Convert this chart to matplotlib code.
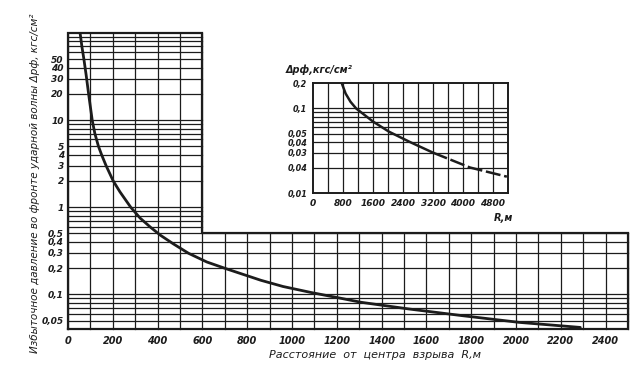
import matplotlib
matplotlib.use('Agg')
import matplotlib.pyplot as plt
from matplotlib.ticker import NullLocator

# ---- data ----
main_R = [54, 62, 71, 81, 92, 108, 120, 136, 150, 170, 202, 232, 280, 322, 368, 413,
          470, 538, 620, 713, 861, 960, 1085, 1200, 1309, 1520, 1758, 2013, 2287]
main_p = [100, 70, 50, 33, 20, 10, 7, 5, 4, 3, 2.0, 1.5, 1.0, 0.75, 0.59, 0.476,
          0.38, 0.296, 0.235, 0.194, 0.145, 0.123, 0.105, 0.092, 0.081, 0.068, 0.057, 0.0477, 0.0417]

inset_R = [765, 870, 1000, 1150, 1600, 2030, 2590, 3200, 4190, 5170]
inset_p = [0.2, 0.15, 0.12, 0.1, 0.07, 0.053, 0.04, 0.03, 0.02, 0.0156]
inset_dash_from = 3200

main_xticks = [0, 200, 400, 600, 800, 1000, 1200, 1400, 1600, 1800, 2000, 2200, 2400]
main_yticks = [50, 40, 30, 20, 10, 5, 4, 3, 2, 1, 0.5, 0.4, 0.3, 0.2, 0.1, 0.05]
main_ylabels = ['50', '40', '30', '20', '10', '5', '4', '3', '2', '1',
                '0,5', '0,4', '0,3', '0,2', '0,1', '0,05']

inset_xticks = [0, 800, 1600, 2400, 3200, 4000, 4800]
inset_yticks = [0.2, 0.1, 0.05, 0.04, 0.03, 0.02, 0.01]
inset_ylabels = ['0,2', '0,1', '0,05', '0,04', '0,03', '0,04', '0,01']

xlabel = 'Расстояние  от  центра  взрыва  R,м'
ylabel = 'Избыточное давление во фронте ударной волны Δpф, кгс/см²'
inset_ylabel = 'Δpф,кгс/см²'
inset_xlabel = 'R,м'

# ---- styling ----
plt.rcParams['font.family'] = ['DejaVu Sans']
plt.rcParams['font.style'] = 'italic'
INK = '#1c1c1c'
W, H = 644, 370

fig = plt.figure(figsize=(W / 100, H / 100), dpi=100)
fig.patch.set_facecolor('white')

def rect(l, t, r, b):
    return [l / W, 1 - b / H, (r - l) / W, (b - t) / H]

# ---------- main axes ----------
ax = fig.add_axes(rect(68, 33, 628, 329))
ax.set_yscale('log')
x0, x1, xs = 0, 2500, 600
y0, y1, ys = 0.04, 100, 0.5
ax.set_xlim(x0, x1)
ax.set_ylim(y0, y1)
for s in ax.spines.values():
    s.set_visible(False)

ylines = sorted(set([round(k * 10 ** e, 6) for e in range(-2, 2) for k in range(1, 10)
                     if y0 < k * 10 ** e < y1]))
for y in ylines:
    xm = x1 if y <= ys + 1e-9 else xs
    ax.plot([x0, xm], [y, y], color=INK, lw=0.9, clip_on=False, zorder=1)
for x in range(0, x1 + 1, 100):
    yt = y1 if x <= xs else ys
    ax.plot([x, x], [y0, yt], color=INK, lw=0.9, clip_on=False, zorder=1)
ax.plot([x0, x0, xs, xs, x1, x1, x0], [y0, y1, y1, ys, ys, y0, y0],
        color=INK, lw=1.6, clip_on=False, zorder=2, solid_joinstyle='miter')

ax.plot(main_R, main_p, color=INK, lw=2.0, zorder=3, solid_capstyle='round',
        solid_joinstyle='round')

ax.set_xticks(main_xticks)
ax.set_xticklabels([str(v) for v in main_xticks], fontsize=7, fontweight='bold')
ax.set_yticks(main_yticks)
ax.set_yticklabels(main_ylabels, fontsize=6.5, fontweight='bold')
ax.yaxis.set_minor_locator(NullLocator())
ax.xaxis.set_minor_locator(NullLocator())
ax.tick_params(axis='both', length=0, colors=INK)
ax.tick_params(axis='x', pad=5)
ax.tick_params(axis='y', pad=3)
ax.set_xlabel(xlabel, fontsize=8, color=INK)
ax.xaxis.set_label_coords((375 - 68) / 560, -(355 - 329) / 296)
ax.xaxis.label.set_va('center')
ax.set_ylabel(ylabel, fontsize=7.5, color=INK)
ax.yaxis.set_label_coords(-(68 - 35) / 560, (329 - 183) / 296)
ax.yaxis.label.set_va('center')

# ---------- inset ----------
ai = fig.add_axes(rect(313, 83, 508, 193))
ai.set_yscale('log')
ix0, ix1 = 0, 5200
iy0, iy1 = 0.01, 0.2
ai.set_xlim(ix0, ix1)
ai.set_ylim(iy0, iy1)
for s in ai.spines.values():
    s.set_linewidth(1.4)
    s.set_color(INK)
for y in [0.02, 0.03, 0.04, 0.05, 0.06, 0.07, 0.08, 0.09, 0.1]:
    ai.plot([ix0, ix1], [y, y], color=INK, lw=0.9, zorder=1)
for x in range(400, ix1, 400):
    ai.plot([x, x], [iy0, iy1], color=INK, lw=0.9, zorder=1)

solid_R = [r for r in inset_R if r <= inset_dash_from]
solid_p = [p for r, p in zip(inset_R, inset_p) if r <= inset_dash_from]
dash_R = [r for r in inset_R if r >= inset_dash_from]
dash_p = [p for r, p in zip(inset_R, inset_p) if r >= inset_dash_from]
ai.plot(solid_R, solid_p, color=INK, lw=1.8, zorder=3, solid_joinstyle='round')
ai.plot(dash_R, dash_p, color=INK, lw=1.8, zorder=3, dashes=(6, 1.5))

ai.set_xticks(inset_xticks)
ai.set_xticklabels([str(v) for v in inset_xticks], fontsize=6.5, fontweight='bold')
ai.set_yticks(inset_yticks)
ai.set_yticklabels(inset_ylabels, fontsize=5.8, fontweight='bold')
ai.yaxis.set_minor_locator(NullLocator())
ai.tick_params(axis='both', length=0, colors=INK)
ai.tick_params(axis='x', pad=4)
ai.tick_params(axis='y', pad=4)

fig.text(286 / W, 1 - 70 / H, inset_ylabel, fontsize=7, fontweight='bold', color=INK,
         ha='left', va='center')
fig.text(503 / W, 1 - 218 / H, inset_xlabel, fontsize=7, fontweight='bold', color=INK,
         ha='center', va='center')

fig.savefig('out.png', dpi=100, facecolor='white')
